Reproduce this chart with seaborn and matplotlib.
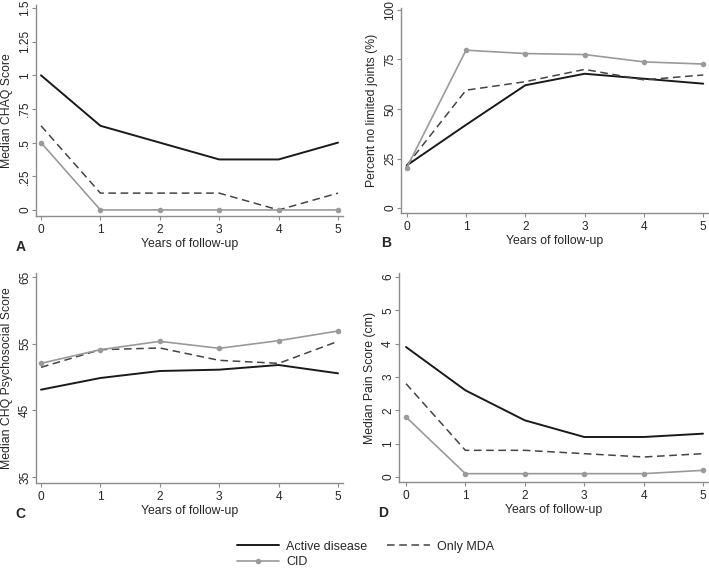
import matplotlib
matplotlib.use("Agg")
import matplotlib.pyplot as plt
import seaborn as sns
from matplotlib.lines import Line2D

# data
years = [0, 1, 2, 3, 4, 5]

chaq_active = [1.0, 0.625, 0.5, 0.375, 0.375, 0.5]
chaq_mda = [0.625, 0.125, 0.125, 0.125, 0.0, 0.125]
chaq_cid = [0.5, 0.0, 0.0, 0.0, 0.0, 0.0]

joints_active = [21.5, 42.0, 62.0, 67.8, 65.3, 62.8]
joints_mda = [21.5, 59.5, 63.8, 70.0, 64.7, 67.2]
joints_cid = [20.3, 79.7, 78.0, 77.5, 73.8, 72.7]

psy_active = [48.1, 49.85, 50.9, 51.1, 51.8, 50.55]
psy_mda = [51.45, 54.1, 54.35, 52.5, 52.05, 55.35]
psy_cid = [52.05, 54.1, 55.35, 54.3, 55.45, 56.9]

pain_active = [3.9, 2.6, 1.7, 1.2, 1.2, 1.3]
pain_mda = [2.8, 0.8, 0.8, 0.7, 0.6, 0.7]
pain_cid = [1.8, 0.1, 0.1, 0.1, 0.1, 0.2]

chaq_ticks = [0, 0.25, 0.5, 0.75, 1, 1.25, 1.5]
chaq_ticklabels = ["0", ".25", ".5", ".75", "1", "1.25", "1.5"]
joints_ticks = [0, 25, 50, 75, 100]
psy_ticks = [35, 45, 55, 65]
pain_ticks = [0, 1, 2, 3, 4, 5, 6]

series_names = ["Active disease", "Only MDA", "CID"]

sns.set_theme(style="white")
plt.rcParams["font.family"] = ["Liberation Sans", "DejaVu Sans"]
plt.rcParams["font.size"] = 8.6

W, H = 709, 571
fig = plt.figure(figsize=(W / 100, H / 100), dpi=100)

AXIS_GREY = "#8c8c8c"
STYLES = {
    "Active disease": dict(color="#1a1a1a", linestyle="-", linewidth=1.4, marker=None),
    "Only MDA": dict(color="#444444", linestyle=(0, (5, 3)), linewidth=1.1, marker=None),
    "CID": dict(color="#9a9a9a", linestyle="-", linewidth=1.2, marker="o"),
}


def make_axes(left, right, top, bottom):
    # pixel box -> figure fraction
    return fig.add_axes([left / W, 1 - bottom / H, (right - left) / W, (bottom - top) / H])


def panel(ax, series, ticks, ticklabels, xlim, ylim, ylabel, letter):
    for name, vals in zip(series_names, series):
        st = STYLES[name]
        sns.lineplot(x=years, y=vals, ax=ax, color=st["color"], linestyle=st["linestyle"],
                     linewidth=st["linewidth"], marker=st["marker"], markersize=4,
                     markeredgewidth=0, legend=False)
    ax.set_xlim(*xlim)
    ax.set_ylim(*ylim)
    ax.set_xticks(years)
    ax.set_yticks(ticks)
    ax.set_yticklabels(ticklabels, rotation=90, va="center")
    ax.set_xlabel("Years of follow-up", fontsize=8.8, labelpad=2)
    ax.set_ylabel(ylabel, fontsize=8.8)
    ax.yaxis.set_label_coords(-0.074, 0.5)
    for side in ["top", "right"]:
        ax.spines[side].set_visible(False)
    for side in ["left", "bottom"]:
        ax.spines[side].set_color(AXIS_GREY)
        ax.spines[side].set_linewidth(1.0)
    ax.tick_params(axis="both", direction="out", length=3, width=0.8, color=AXIS_GREY,
                   labelsize=8.6, left=True, bottom=True)
    ax.tick_params(axis="y", pad=0.5)
    ax.tick_params(axis="x", pad=2.5)
    ax.grid(False)
    ax.text(-0.05, -0.148, letter, transform=ax.transAxes, fontsize=10, fontweight="bold",
            ha="center", va="center")


ax_a = make_axes(36, 343, 5, 216)
panel(ax_a, [chaq_active, chaq_mda, chaq_cid], chaq_ticks, chaq_ticklabels,
      (-0.084, 5.084), (-0.045, 1.522), "Median CHAQ Score", "A")

ax_b = make_axes(401, 708, 8, 213)
panel(ax_b, [joints_active, joints_mda, joints_cid], joints_ticks,
      [str(t) for t in joints_ticks], (-0.096, 5.08), (-2.5, 101.0),
      "Percent no limited joints (%)", "B")

ax_c = make_axes(36, 343, 273, 483)
panel(ax_c, [psy_active, psy_mda, psy_cid], psy_ticks, [str(t) for t in psy_ticks],
      (-0.084, 5.084), (34.1, 65.6), "Median CHQ Psychosocial Score", "C")

ax_d = make_axes(399, 708, 273, 482)
panel(ax_d, [pain_active, pain_mda, pain_cid], pain_ticks, [str(t) for t in pain_ticks],
      (-0.118, 5.084), (-0.15, 6.12), "Median Pain Score (cm)", "D")

handles = []
for name in series_names:
    st = STYLES[name]
    handles.append(Line2D([], [], color=st["color"], linestyle=st["linestyle"],
                          linewidth=st["linewidth"], marker=st["marker"], markersize=4,
                          markeredgewidth=0))
order = [0, 2, 1]
fig.legend([handles[i] for i in order], [series_names[i] for i in order],
           loc="center", bbox_to_anchor=(0.515, 1 - 554.5 / H), ncol=2, frameon=False,
           fontsize=9, handlelength=3.4, handletextpad=0.55, columnspacing=1.6,
           labelspacing=0.3, borderpad=0.2)

fig.savefig("out.png", dpi=100)
